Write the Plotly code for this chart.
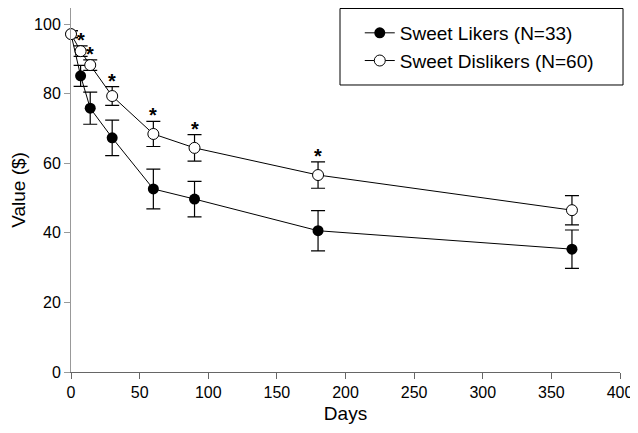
import plotly.graph_objects as go

days = [0, 7, 14, 30, 60, 90, 180, 365]
likers = [97.1, 85.1, 75.8, 67.3, 52.6, 49.7, 40.6, 35.3]
likers_err = [1.0, 3.0, 4.6, 5.1, 5.7, 5.1, 5.8, 5.5]
dislikers = [97.1, 92.2, 88.2, 79.3, 68.4, 64.4, 56.6, 46.5]
dislikers_err = [1.0, 1.5, 1.5, 2.7, 3.6, 3.8, 3.8, 4.2]
star_days = [7, 14, 30, 60, 90, 180]

font_family = "Liberation Sans, Arial, sans-serif"

fig = go.Figure()
fig.add_trace(go.Scatter(
    x=days, y=likers, name="Sweet Likers (N=33)", mode="lines+markers",
    legendgroup="a",
    line=dict(color="black", width=1),
    marker=dict(symbol="circle", size=11, color="black"),
    error_y=dict(type="data", array=likers_err, color="black", thickness=1.2, width=7),
    cliponaxis=False,
))
fig.add_trace(go.Scatter(
    x=days, y=dislikers, name="Sweet Dislikers (N=60)", mode="lines+markers",
    legendgroup="b",
    line=dict(color="black", width=1),
    marker=dict(symbol="circle", size=11, color="white", line=dict(color="black", width=1)),
    error_y=dict(type="data", array=dislikers_err, color="black", thickness=1.2, width=7),
    cliponaxis=False,
))

for d in star_days:
    i = days.index(d)
    fig.add_annotation(x=d, y=dislikers[i] + dislikers_err[i], text="<b>*</b>",
                       showarrow=False, yanchor="bottom", yshift=-7,
                       font=dict(size=20, color="black", family=font_family))

# legend frame
fig.add_shape(type="rect", xref="paper", yref="paper",
              x0=0.49, x1=1.0055, y0=0.7885, y1=0.9986,
              line=dict(color="black", width=1), fillcolor="rgba(0,0,0,0)")

fig.update_layout(
    width=638, height=433,
    margin=dict(l=63, r=26, t=0, b=69),
    paper_bgcolor="white", plot_bgcolor="white",
    font=dict(family=font_family, size=16, color="black"),
    showlegend=True,
    legend=dict(x=0.526, y=0.9836, xanchor="left", yanchor="top",
                borderwidth=0, bgcolor="rgba(0,0,0,0)",
                traceorder="grouped", tracegroupgap=0,
                font=dict(size=19, family=font_family)),
    xaxis=dict(range=[0, 400], tickvals=[0, 50, 100, 150, 200, 250, 300, 350, 400],
               showgrid=False, zeroline=False, showline=True, linecolor="#666",
               ticks="outside", ticklen=6, tickcolor="#666", automargin=False,
               tickfont=dict(size=16),
               title=dict(text="Days", font=dict(size=19), standoff=6)),
    yaxis=dict(range=[0, 104.6], tickvals=[0, 20, 40, 60, 80, 100],
               showgrid=False, zeroline=False, showline=True, linecolor="#999",
               ticks="outside", ticklen=6, tickcolor="#999", automargin=False,
               tickfont=dict(size=16),
               title=dict(text="Value ($)", font=dict(size=19), standoff=4)),
)

fig.write_html("out.html")
